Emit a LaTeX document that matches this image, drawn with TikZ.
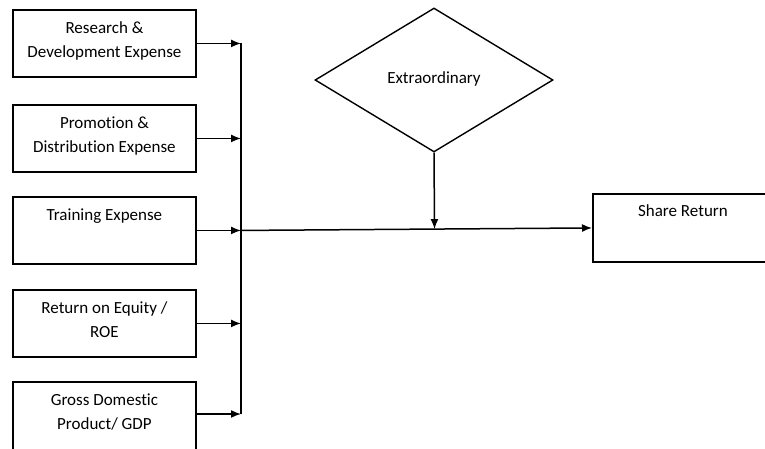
\documentclass[tikz,border=0pt]{standalone}
\usepackage{fontspec}
\setmainfont{Carlito}[Ligatures={NoCommon}]
\usetikzlibrary{shapes.geometric,arrows.meta,calc}
\newcommand{\bt}[2][67pt]{\parbox[t][#1][t]{183pt}{\centering\rule{0pt}{23.5pt}#2}}
\tikzset{
  x=1pt, y=-1pt,
  inbox/.style={draw, line width=1.9pt, inner sep=0pt, anchor=north west, font=\fontsize{17}{24}\selectfont},
  conn/.style={line width=1.5pt},
  arr/.style={conn, -{Latex[length=10pt,width=8pt]}},
  decision/.style={draw, diamond, line width=1.4pt, inner sep=0pt, minimum width=238pt, minimum height=144pt, font=\fontsize{17}{24}\selectfont}
}
\begin{document}
\begin{tikzpicture}
\clip (0,0) rectangle (765,449);
\fill[white] (0,0) rectangle (765,449);
\node[inbox] (b1) at (12,9) {\bt{Research \&\\Development Expense}};
\node[inbox] (b2) at (12,104) {\bt{Promotion \&\\Distribution Expense}};
\node[inbox] (b3) at (12,196) {\bt{Training Expense}};
\node[inbox] (b4) at (12,289) {\bt{Return on Equity /\\ROE}};
\node[inbox] (b5) at (12,381) {\bt[80pt]{Gross Domestic\\Product/ GDP}};
\node[inbox] (sr) at (592,193) {\parbox[t][68pt][t]{180pt}{\centering\rule{0pt}{23pt}Share Return}};
\node[decision] (d) at (434,80) {\raisebox{4pt}{Extraordinary}};
\foreach \i in {1,...,4}{
  \coordinate (c\i) at (241,0 |- b\i.east);
  \draw[arr] (b\i.east) -- (c\i);
}
\coordinate (e5) at ([yshift=-33pt]b5.north east);
\coordinate (c5) at (241,0 |- e5);
\draw[arr] (e5) -- (c5);
\draw[conn] (c1) -- (c5);
\draw[arr] (c3) -- (sr.west);
\coordinate (m) at ($(c3)!(d.south)!(sr.west)$);
\draw[arr] (d.south) -- (m);
\end{tikzpicture}
\end{document}
